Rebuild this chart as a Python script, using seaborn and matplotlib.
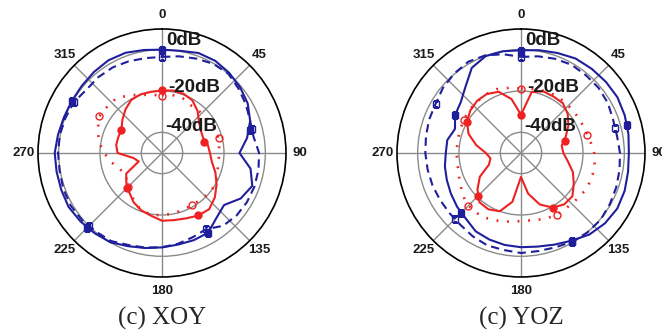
import numpy as np
import pandas as pd
import matplotlib
matplotlib.use('Agg')
import matplotlib.pyplot as plt
import seaborn as sns

# angles (deg, clockwise from top) for the traces, and where the markers sit
angles = list(range(0, 360, 10))
mark_angles = [0, 75, 150, 225, 300]

# XOY plane (dB)
xoy_blue_solid = [0, 0.2, 1.5, 1.5, 0.6, -0.6, -2.1, -4.6, -8.2, -12.5, -6.5, -3.5,
                  -6, -10.8, -9, -5.4, -5.1, -5, -4.3, -3.3, -2, -0.1, 0.7, 1.5,
                  2.2, 1.9, 1.8, 1.9, 1.1, 0.5, 0.4, 0.6, 1.2, 1.8, 1.6, 0.6]
xoy_blue_dash = [-3.5, -2.5, -1.4, -0.2, 0, -1.6, -3.1, -4.6, -5, -3, -2.6, -2.4,
                 -2.5, -2.9, -4, -7.4, -6.6, -5.4, -4.4, -3.5, -2.6, -0.8, -0.3, 0.5,
                 1, 0.8, 0.3, 0.3, 0.2, -0.3, -0.8, -2.3, -2.1, -2.2, -2.8, -3.4]
xoy_red_solid = [-19.8, -19.3, -19.5, -20.6, -23.3, -26.6, -28.3, -28.8, -27.5, -26.8, -25.5, -22.5,
                 -19.5, -16.6, -14.5, -15, -16.3, -17, -17.2, -19.2, -20.5, -22.5, -25.3, -27.5,
                 -30, -38, -36, -28.5, -27.5, -27.5, -27.3, -25, -22.5, -20.3, -19.8, -19.9]
xoy_red_dot = [-22, -21.5, -21.5, -23, -23, -22.5, -22, -21.5, -22, -22.3, -22.3, -21.5,
               -20, -20, -20.5, -21, -20.5, -20.3, -19.8, -19.8, -20.5, -23, -26, -28,
               -29.5, -28, -25, -22, -19, -17, -14.8, -15.3, -15.5, -17.8, -20, -21.5]
xoy_marks = {
    'blue_solid': [0, -6.1, -5.4, 1.1, 0.4],
    'blue_dash': [-3.5, -4.9, -7.4, -0.3, -0.8],
    'red_solid': [-19.6, -28.9, -15.5, -26.3, -27.3],
    'red_dot': [-22.2, -21.3, -21.1, -26.5, -14.6],
}

# YOZ plane (dB)
yoz_blue_solid = [-0.3, 0.5, 1.5, 2.8, 3.2, 3.6, 3.9, 3.4, 2.8, 2.2, 2.6, 3.4,
                  3.8, 3, 1.5, -1, -2.8, -4, -4.4, -4.8, -5.4, -6.2, -8.5, -9.6,
                  -10.8, -11.8, -12.6, -13.6, -13.8, -16, -13.2, -11.9, -8.2, -2.4, -0.1, 0]
yoz_blue_dash = [-3.5, -2.5, -1.5, -0.8, -1, -1, -1.5, -2.6, -2.8, -2.1, -1.6, -1,
                 -0.4, 0.3, 0.1, -0.4, -1.4, -1.8, -1.6, -2.3, -2.4, -3.4, -4.5, -4.8,
                 -4.7, -4.4, -4.1, -3.7, -3.3, -2.7, -2.3, -0.8, 0.2, 1, 0.3, -1.5]
yoz_red_solid = [-31.5, -20, -18.3, -18.5, -18.5, -20.5, -23.5, -27, -30, -29.5, -27, -23.3,
                 -20.5, -17.5, -17.5, -19.5, -23.5, -30, -38.4, -26, -20, -18.5, -18.8, -22.5,
                 -27, -33.5, -35, -33, -28, -23, -19.8, -18, -17, -17, -18.5, -23.5]
yoz_red_dot = [-18.8, -18.5, -18, -17.5, -17.5, -17.5, -17.3, -17, -16, -14.6, -13.8, -13.6,
               -14, -15, -15.5, -15.5, -16, -17, -17, -16.3, -15.2, -14, -13.7, -14.5,
               -16.5, -18, -18.8, -18.8, -18.8, -18.5, -18, -17.5, -17.3, -17, -17, -18]
yoz_marks = {
    'blue_solid': [-0.5, 3, -1, -9.2, -13.3],
    'blue_dash': [-3.5, -3.1, -0.5, -4.9, -2.3],
    'red_solid': [-31.5, -27.9, -19.5, -20.8, -19.8],
    'red_dot': [-18.8, -17, -15.5, -13.6, -18],
}

tick_labels = ['0', '45', '90', '135', '180', '225', '270', '315']
ring_labels = {0: '0dB', -20: '-20dB', -40: '-40dB'}

blue = '#1f1f9c'
red = '#ee2222'
grid_gray = '#8a8a8a'

sns.set_style('white')
plt.rcParams['font.family'] = ['Liberation Sans', 'DejaVu Sans']

styles = {
    'blue_solid': dict(color=blue, linestyle='-', lw=1.5, marker='s', filled=True),
    'blue_dash': dict(color=blue, linestyle=(0, (4, 2.5)), lw=1.5, marker='s', filled=False),
    'red_solid': dict(color=red, linestyle='-', lw=1.5, marker='o', filled=True),
    'red_dot': dict(color=red, linestyle=(0, (0.7, 3.3)), lw=1.9, marker='o', filled=False),
}


def draw_panel(ax, traces, marks, caption, cx):
    ax.set_theta_zero_location('N')
    ax.set_theta_direction(-1)
    order = ['blue_dash', 'blue_solid', 'red_dot', 'red_solid']
    for key in order:
        st = styles[key]
        vals = traces[key]
        df = pd.DataFrame({'theta': np.deg2rad(angles + [360]), 'r': vals + vals[:1]})
        sns.lineplot(data=df, x='theta', y='r', ax=ax, color=st['color'],
                     linestyle=st['linestyle'], linewidth=st['lw'], sort=False, estimator=None)
        ax.plot(np.deg2rad(mark_angles), marks[key], linestyle='none', marker=st['marker'],
                markersize=5, color=st['color'],
                markerfacecolor=st['color'] if st['filled'] else 'none', markeredgewidth=1)
    ax.set_ylim(-50, 10)
    ax.set_yticks([-40, -20, 0])
    ax.set_yticklabels([])
    ax.set_xticks(np.deg2rad(np.arange(0, 360, 45)))
    ax.set_xticklabels(tick_labels, fontsize=9.5, fontweight='bold', color='#1a1a1a')
    ax.set_xticks(np.deg2rad(np.arange(22.5, 360, 45)), minor=True)
    ax.tick_params(axis='x', which='major', pad=3, length=0)
    ax.tick_params(axis='x', which='minor', length=3, direction='in', color='black', width=0.8)
    ax.grid(True, color=grid_gray, linewidth=1)
    ax.spines['polar'].set_color('black')
    ax.spines['polar'].set_linewidth(1.2)
    ax.set_xlabel('')
    ax.set_ylabel('')
    offsets = {0: (3, 6.5), -20: (4.3, 2.2), -40: (2.2, 4)}
    for lvl, txt in ring_labels.items():
        ax.annotate(txt, xy=(0, lvl), xytext=offsets[lvl], textcoords='offset points',
                    ha='left', va='center', fontsize=13.5, fontweight='bold', color='#1a1a1a')
    fig.text(cx, 0.042, caption, ha='center', va='center', fontsize=18,
             family=['Liberation Serif', 'DejaVu Serif'])


fig = plt.figure(figsize=(6.62, 3.32), dpi=100)
ax1 = fig.add_axes([0.0574, 0.1657, 0.3746, 0.747], projection='polar')
ax2 = fig.add_axes([0.5997, 0.1657, 0.3746, 0.747], projection='polar')

draw_panel(ax1, {'blue_solid': xoy_blue_solid, 'blue_dash': xoy_blue_dash,
                 'red_solid': xoy_red_solid, 'red_dot': xoy_red_dot},
           xoy_marks, '(c) XOY', 0.2447)
draw_panel(ax2, {'blue_solid': yoz_blue_solid, 'blue_dash': yoz_blue_dash,
                 'red_solid': yoz_red_solid, 'red_dot': yoz_red_dot},
           yoz_marks, '(c) YOZ', 0.787)

fig.savefig('out.png', dpi=100)
